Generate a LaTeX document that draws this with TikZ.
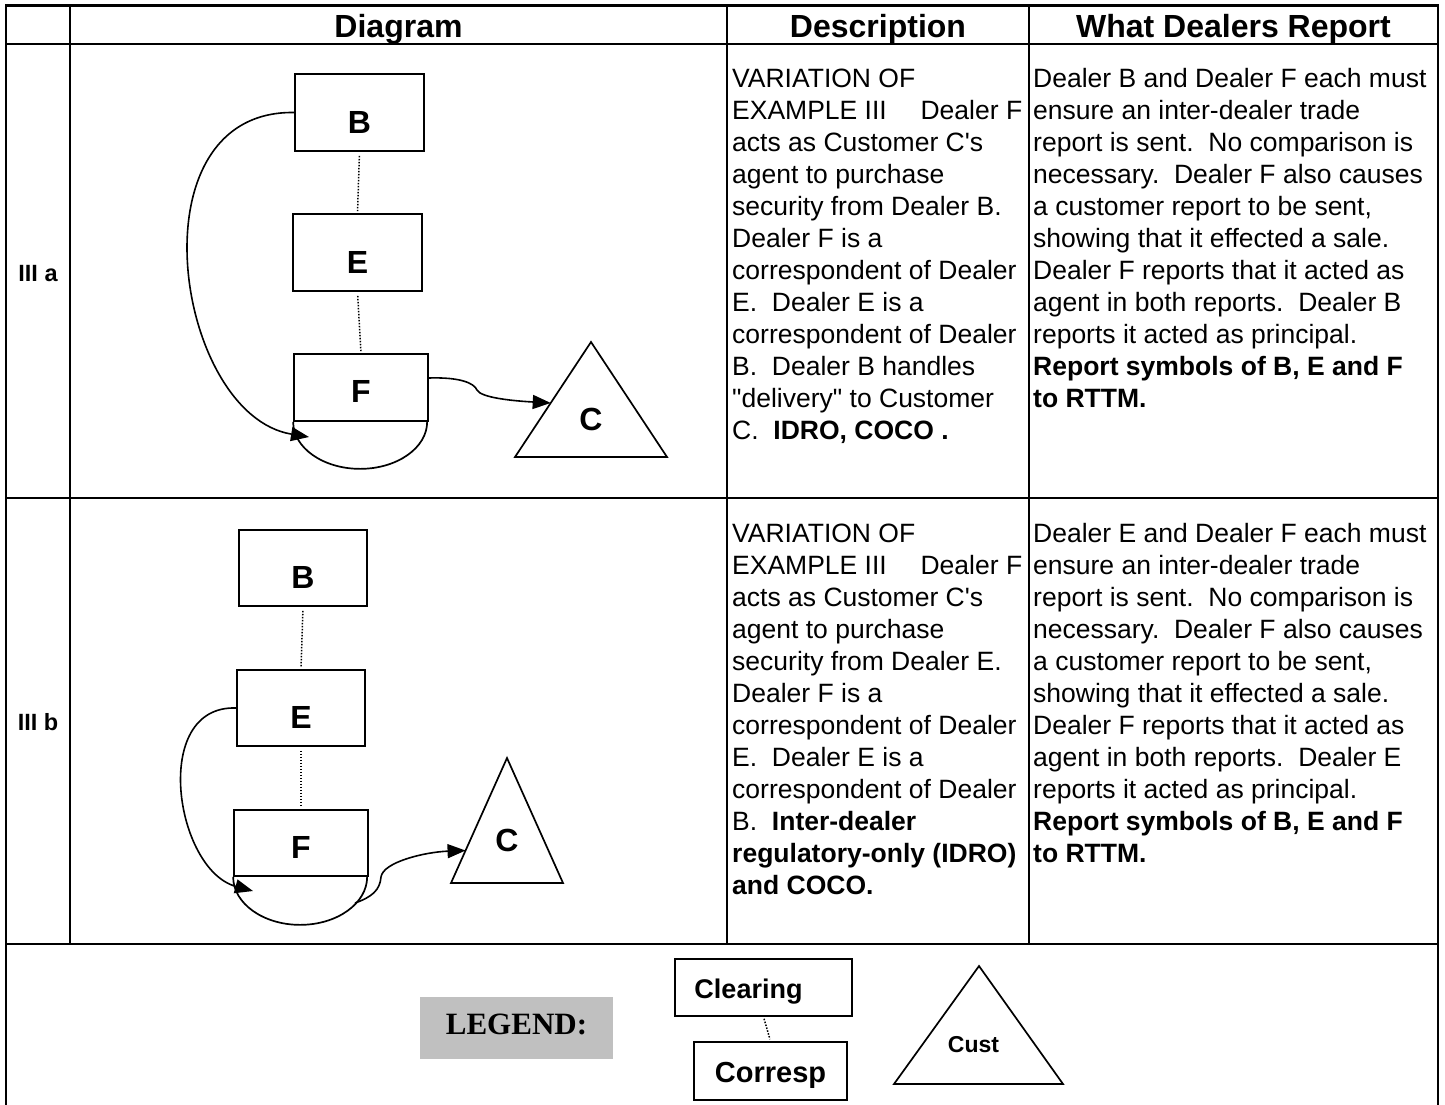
\documentclass[tikz,border=0pt]{standalone}
\usepackage{fontspec}
\setmainfont{Liberation Sans}[Ligatures=TeXOff]
\newfontfamily\legendfont{Liberation Serif}
\usetikzlibrary{arrows.meta,calc}
\definecolor{leggray}{HTML}{C0C0C0}
\newcommand\mybody{\fontsize{26.5}{32}\selectfont}
\begin{document}
\begin{tikzpicture}[x=1pt,y=-1pt,
  grid/.style={line width=2.2pt, line cap=rect},
  box/.style={draw, line width=1.7pt, inner sep=0pt, font=\bfseries\fontsize{32}{32}\selectfont, text height=41.5pt, text depth=0pt},
  fbox/.style={box, text height=30.5pt},
  shapeline/.style={line width=1.7pt},
  lettr/.style={inner sep=0pt, font=\bfseries\fontsize{32}{32}\selectfont},
  dotline/.style={line width=1.5pt, dash pattern=on 1.5pt off 1.5pt, shorten <=4pt, shorten >=2pt},
  arr/.style={line width=1.6pt, -{Triangle[length=18pt,width=14pt]}},
  hdr/.style={anchor=base, inner sep=0pt, font=\bfseries\fontsize{32}{32}\selectfont},
  rowlab/.style={inner sep=0pt, font=\bfseries\fontsize{23.5}{23.5}\selectfont},
  legbox/.style={draw, line width=1.7pt, inner sep=0pt, font=\bfseries\fontsize{27}{27}\selectfont, text height=22pt, text depth=0pt},
  txt/.style={anchor=base west, inner sep=0pt}
]
\useasboundingbox (0,0) rectangle (1445,1104);

% ---------- table grid ----------
\draw[grid] (6,1110) -- (6,5.5) -- (1438,5.5) -- (1438,1110);
\draw[grid] (6,44) -- (1438,44);
\draw[grid] (6,498) -- (1438,498);
\draw[grid] (6,944) -- (1438,944);
\draw[grid] (70,5.5) -- (70,944);
\draw[grid] (727,5.5) -- (727,944);
\draw[grid] (1029,5.5) -- (1029,944);

% ---------- headers ----------
\node[hdr] (h1) at (398.5,37) {Diagram};
\node[hdr] (h2) at (878,37) {Description};
\node[hdr] (h3) at (1233.5,37) {What Dealers Report};

\node[rowlab] (r1) at (38,274) {III a};
\node[rowlab] (r2) at (38,722) {III b};

% ---------- diagram III a ----------
\node[box, minimum width=129pt, minimum height=77pt] (Ba) at (359.5,112.5) {B};
\node[box, minimum width=129pt, minimum height=77pt] (Ea) at (357.5,252.5) {E};
\node[fbox, minimum width=134pt, minimum height=67pt] (Fa) at (361,387.5) {F};
\draw[shapeline] (Fa.south west) arc[start angle=180, end angle=360, x radius=67pt, y radius=47pt];
\draw[dotline] (Ba.south) -- (Ea.north);
\draw[dotline] (Ea.south) -- (Fa.north);
\coordinate (Cat) at (591,342);
\coordinate (Cal) at (515,457);
\coordinate (Car) at (667,457);
\draw[shapeline] (Cat) -- (Car) -- (Cal) -- cycle;
\node[lettr] (Ca) at (591,419) {C};
\coordinate (FaIn) at (309,437);
\draw[arr] (Ba.west) .. controls (130,110) and (175,415) .. (FaIn);
\coordinate (FaOut) at ($(Fa.east)+(0,-9.5)$);
\draw[arr] (FaOut) .. controls (460,377) and (474,383) .. (477,390)
   .. controls (481,398) and (515,401) .. ($(Cat)!0.53!(Cal)$);

% ---------- diagram III b ----------
\node[box, minimum width=128pt, minimum height=76pt] (Bb) at (303,568) {B};
\node[box, minimum width=128pt, minimum height=76pt] (Eb) at (301,708) {E};
\node[fbox, minimum width=134pt, minimum height=66pt] (Fb) at (301,843) {F};
\draw[shapeline] (Fb.south west) arc[start angle=180, end angle=360, x radius=67pt, y radius=48pt];
\draw[dotline] (Bb.south) -- (Eb.north);
\draw[dotline] (Eb.south) -- (Fb.north);
\coordinate (Cbt) at (507,758);
\coordinate (Cbl) at (451,883);
\coordinate (Cbr) at (563,883);
\draw[shapeline] (Cbt) -- (Cbr) -- (Cbl) -- cycle;
\node[lettr] (Cb) at (507,840) {C};
\coordinate (FbIn) at (253,891);
\draw[arr] (Eb.west) .. controls (150,705) and (175,870) .. (FbIn);
\coordinate (FbOut) at (355,903);
\draw[arr] (FbOut) .. controls (372,897) and (380,890) .. (381,877)
   .. controls (383,862) and (425,852) .. ($(Cbt)!0.74!(Cbl)$);

% ---------- description texts ----------
\node[txt] (d1) at (732,87) {\begin{minipage}[t]{300pt}\mybody\parindent=0pt
VARIATION OF\\
\makebox[290pt][l]{EXAMPLE III\hfill Dealer F}\\
acts as Customer C's\\
agent to purchase\\
security from Dealer B.\\
Dealer F is a\\
correspondent of Dealer\\
E.\ \ Dealer E is a\\
correspondent of Dealer\\
B.\ \ Dealer B handles\\
"delivery" to Customer\\
C.\ \ \textbf{IDRO, COCO .}
\end{minipage}};

\node[txt] (w1) at (1033,87) {\begin{minipage}[t]{410pt}\mybody\parindent=0pt
Dealer B and Dealer F each must\\
ensure an inter-dealer trade\\
report is sent.\ \ No comparison is\\
necessary.\ \ Dealer F also causes\\
a customer report to be sent,\\
showing that it effected a sale.\\
Dealer F reports that it acted as\\
agent in both reports.\ \ Dealer B\\
reports it acted as principal.\\
\textbf{Report symbols of B, E and F}\\
\textbf{to RTTM.}
\end{minipage}};

\node[txt] (d2) at (732,542) {\begin{minipage}[t]{300pt}\mybody\parindent=0pt
VARIATION OF\\
\makebox[290pt][l]{EXAMPLE III\hfill Dealer F}\\
acts as Customer C's\\
agent to purchase\\
security from Dealer E.\\
Dealer F is a\\
correspondent of Dealer\\
E.\ \ Dealer E is a\\
correspondent of Dealer\\
B.\ \ \textbf{Inter-dealer}\\
\textbf{regulatory-only (IDRO)}\\
\textbf{and COCO.}
\end{minipage}};

\node[txt] (w2) at (1033,542) {\begin{minipage}[t]{410pt}\mybody\parindent=0pt
Dealer E and Dealer F each must\\
ensure an inter-dealer trade\\
report is sent.\ \ No comparison is\\
necessary.\ \ Dealer F also causes\\
a customer report to be sent,\\
showing that it effected a sale.\\
Dealer F reports that it acted as\\
agent in both reports.\ \ Dealer E\\
reports it acted as principal.\\
\textbf{Report symbols of B, E and F}\\
\textbf{to RTTM.}
\end{minipage}};

% ---------- legend ----------
\node[fill=leggray, inner sep=0pt, minimum width=193pt, minimum height=62pt,
      font=\legendfont\bfseries\fontsize{31}{31}\selectfont, text height=13pt, text depth=0pt]
      (leg) at (516.5,1028) {LEGEND:};
\node[legbox, minimum width=177pt, minimum height=57pt] (clr) at (763.5,987.5) {\hspace*{-30pt}Clearing};
\node[legbox, minimum width=153pt, minimum height=58pt, font=\bfseries\fontsize{29}{29}\selectfont, text height=23pt] (cor) at (770.5,1071) {Corresp};
\draw[dotline, shorten <=2pt] (clr.south) -- (cor.north);
\coordinate (Ct) at (979,966);
\coordinate (Cl) at (894,1084);
\coordinate (Cr) at (1063,1084);
\draw[shapeline] (Ct) -- (Cr) -- (Cl) -- cycle;
\node[anchor=base, inner sep=0pt, font=\bfseries\fontsize{23}{23}\selectfont] (cust) at (973.5,1052) {Cust};
\end{tikzpicture}
\end{document}
